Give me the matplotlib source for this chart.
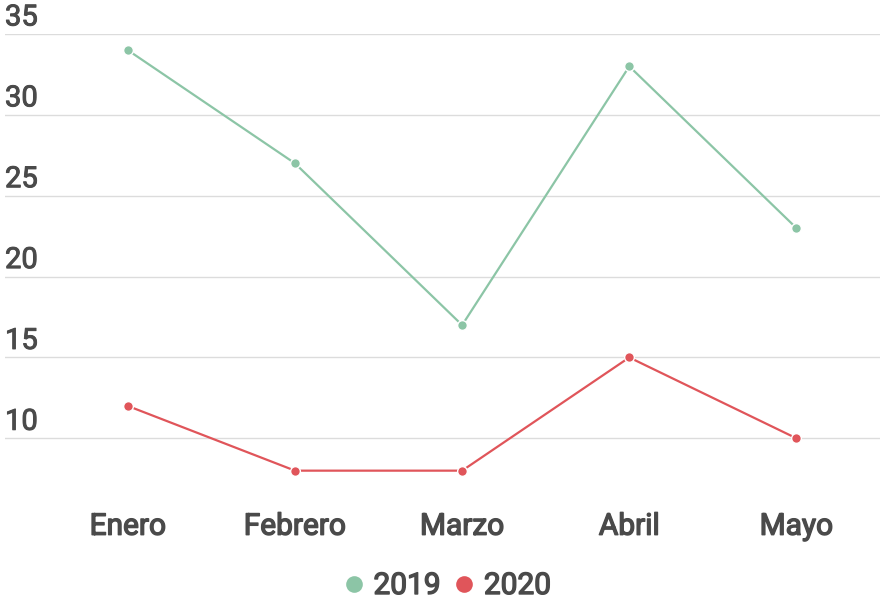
import matplotlib
matplotlib.use("Agg")
import matplotlib.pyplot as plt
from matplotlib.lines import Line2D
import matplotlib.transforms as mtransforms
import matplotlib.patheffects as pe

plt.rcParams['font.family'] = ['Roboto', 'DejaVu Sans']

months = ["Enero", "Febrero", "Marzo", "Abril", "Mayo"]
s2019 = [34, 27, 17, 33, 23]
s2020 = [12, 8, 8, 15, 10]
yticks = [10, 15, 20, 25, 30, 35]

c19 = "#8cc5a6"
c20 = "#e0555a"
txt = "#4a4a4a"
med = [pe.withStroke(linewidth=0.7, foreground=txt)]
med2 = [pe.withStroke(linewidth=1.0, foreground=txt)]

W, H = 882, 604
fig = plt.figure(figsize=(W / 100, H / 100), dpi=100)
ax_top, ax_bot = 34, 503
ax = fig.add_axes([5 / W, 1 - ax_bot / H, 875 / W, (ax_bot - ax_top) / H])
ax.set_xlim(-0.735, 4.5)
ax.set_ylim(6, 35)

off = mtransforms.ScaledTranslation(0, 2.5 / 100, fig.dpi_scale_trans)
for v in yticks:
    ax.axhline(v, color="#dcdcdc", lw=1, zorder=0)
    ax.text(0, v, str(v), transform=ax.get_yaxis_transform() + off, ha="left", va="bottom",
            fontsize=21, color=txt, clip_on=False, path_effects=med)

x = list(range(len(months)))
ax.plot(x, s2019, color=c19, lw=1.6, marker="o", ms=7, mec="white", mew=1, clip_on=False, zorder=3)
ax.plot(x, s2020, color=c20, lw=1.6, marker="o", ms=7, mec="white", mew=1, clip_on=False, zorder=3)

ax.set_xticks(x)
ax.set_xticklabels(months, fontsize=21.5, color=txt)
for t in ax.get_xticklabels():
    t.set_path_effects(med2)
ax.tick_params(axis="x", length=0, pad=7)
ax.set_yticks([])
for s in ax.spines.values():
    s.set_visible(False)

handles = [Line2D([], [], ls="", marker="o", ms=12, color=c19, mec="none"),
           Line2D([], [], ls="", marker="o", ms=12, color=c20, mec="none")]
leg = fig.legend(handles, ["2019", "2020"], loc="center", bbox_to_anchor=(448 / W, 1 - 586 / H),
                 ncol=2, frameon=False, handlelength=0.6, handletextpad=0.35, columnspacing=0.5,
                 prop={"size": 21.5}, labelcolor=txt)
for t in leg.get_texts():
    t.set_path_effects(med2)

fig.savefig("out.png", dpi=100)
